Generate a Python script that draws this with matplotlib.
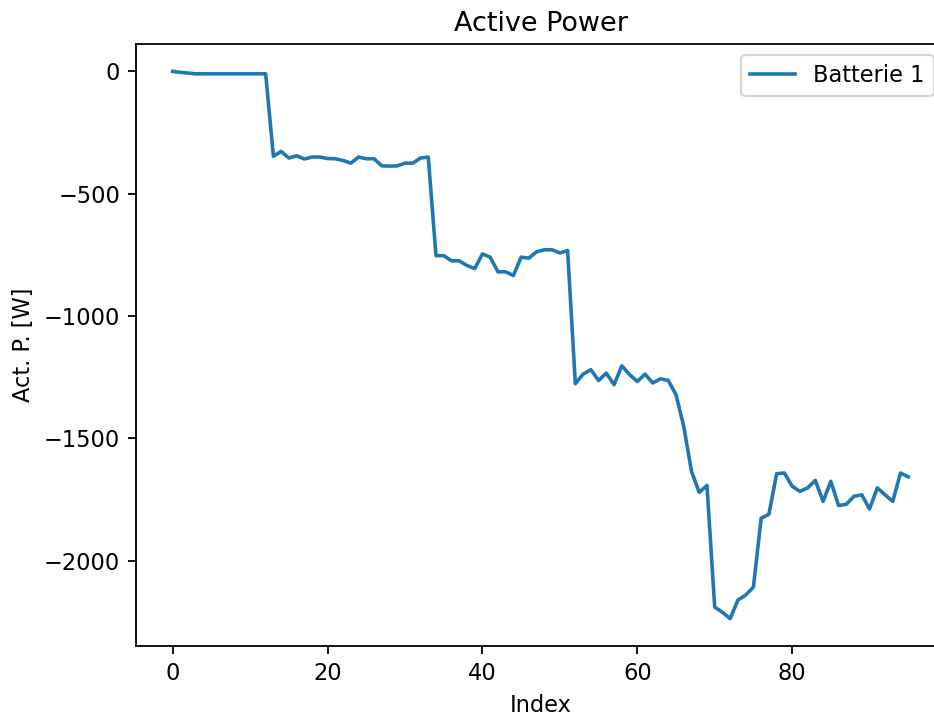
import matplotlib.pyplot as plt

# active power of battery 1, one value per index (0..95)
power = [
    0, -4, -7, -10, -10, -10, -10, -10, -10, -10,
    -10, -10, -10, -347, -327, -354, -345, -358, -350, -350,
    -356, -357, -364, -375, -350, -357, -357, -386, -387, -386,
    -375, -375, -354, -350, -753, -753, -774, -774, -793, -806,
    -746, -759, -819, -819, -834, -759, -763, -737, -729, -729,
    -742, -732, -1276, -1237, -1219, -1263, -1233, -1280, -1203, -1239,
    -1267, -1237, -1273, -1256, -1263, -1321, -1450, -1634, -1720, -1692,
    -2189, -2210, -2236, -2160, -2140, -2107, -1826, -1810, -1644, -1641,
    -1695, -1716, -1702, -1671, -1757, -1675, -1774, -1769, -1736, -1730,
    -1788, -1702, -1730, -1757, -1641, -1657,
]
index = list(range(len(power)))

dpi = 162
fig = plt.figure(figsize=(934 / dpi, 718 / dpi), dpi=dpi)
ax = fig.add_axes([0.1456, 0.1003, 0.8662, 0.8384])

ax.plot(index, power, label='Batterie 1', linewidth=1.6)
ax.set_title('Active Power')
ax.set_xlabel('Index')
ax.set_ylabel('Act. P. [W]')
ax.legend(loc='upper right')

fig.savefig('out.png', dpi=dpi)
